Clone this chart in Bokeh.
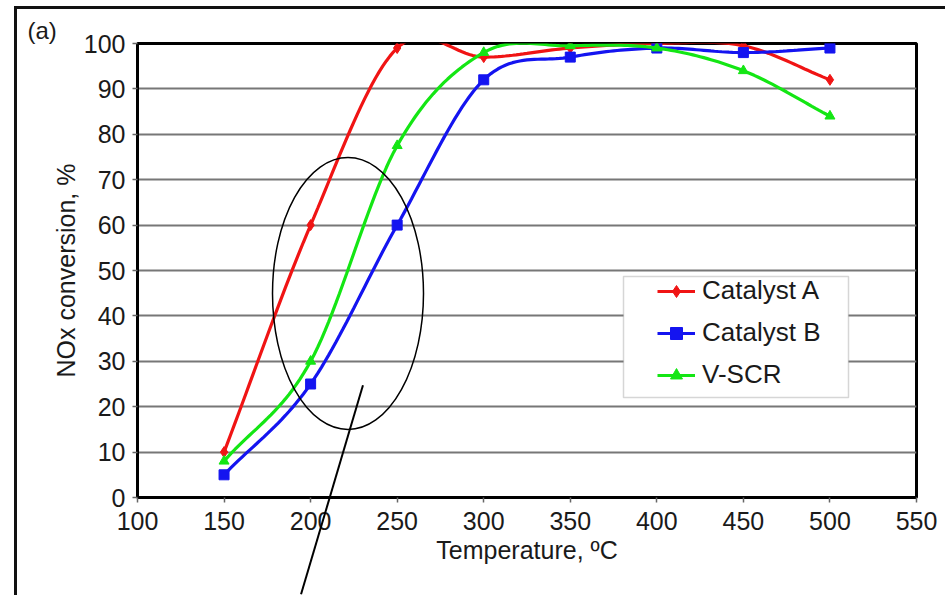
import numpy as np
from bokeh.plotting import figure
from bokeh.models import (Range1d, FixedTicker, Legend, LegendItem, Title,
                          BoxAnnotation, InlineStyleSheet)
from bokeh.embed import file_html
from bokeh.resources import INLINE

# ---------------- data ----------------
temperature = [150, 200, 250, 300, 350, 400, 450, 500]
catalyst_a = [10, 60, 99, 97, 99, 100, 99.5, 92]
catalyst_b = [5, 25, 60, 92, 97, 99, 98, 99]
v_scr = [8, 30, 77.5, 98, 99.5, 99, 94, 84]
x_ticks = [100, 150, 200, 250, 300, 350, 400, 450, 500, 550]
y_ticks = [0, 10, 20, 30, 40, 50, 60, 70, 80, 90, 100]
series_names = ["Catalyst A", "Catalyst B", "V-SCR"]

# ---------------- layout (pixels of the plot frame) ----------------
W, H = 945, 595
FRAME_L, FRAME_R, FRAME_T, FRAME_B = 137, 916, 43, 497
X0, X1, Y0, Y1 = x_ticks[0], x_ticks[-1], y_ticks[0], y_ticks[-1]


def px_x(px):
    return X0 + (px - FRAME_L) * (X1 - X0) / (FRAME_R - FRAME_L)


def px_y(py):
    return Y0 + (FRAME_B - py) * (Y1 - Y0) / (FRAME_B - FRAME_T)


def smooth(xs, ys, n=24):
    """Catmull-Rom rendering of a smoothed line through the data points."""
    xs = np.asarray(xs, float)
    ys = np.asarray(ys, float)
    px = np.concatenate([[2 * xs[0] - xs[1]], xs, [2 * xs[-1] - xs[-2]]])
    py = np.concatenate([[2 * ys[0] - ys[1]], ys, [2 * ys[-1] - ys[-2]]])
    out_x, out_y = [], []
    t = np.linspace(0, 1, n, endpoint=False)
    for i in range(1, len(px) - 2):
        for arr, out in ((px, out_x), (py, out_y)):
            p0, p1, p2, p3 = arr[i - 1], arr[i], arr[i + 1], arr[i + 2]
            out.extend(0.5 * ((2 * p1) + (-p0 + p2) * t
                              + (2 * p0 - 5 * p1 + 4 * p2 - p3) * t ** 2
                              + (-p0 + 3 * p1 - 3 * p2 + p3) * t ** 3))
    out_x.append(xs[-1])
    out_y.append(ys[-1])
    return out_x, out_y


FONT = "Liberation Sans"
TXT = "#1a1a1a"

p = figure(width=W, height=H, x_range=Range1d(X0, X1), y_range=Range1d(Y0, Y1),
           output_backend="svg", toolbar_location=None, title=None,
           min_border_left=FRAME_L, min_border_right=W - FRAME_R,
           min_border_top=FRAME_T, min_border_bottom=H - FRAME_B)
p.background_fill_color = "white"
p.border_fill_color = "white"
p.outline_line_color = "black"
p.outline_line_width = 3

# axes
p.xaxis.ticker = FixedTicker(ticks=x_ticks)
p.yaxis.ticker = FixedTicker(ticks=y_ticks)
p.xaxis.axis_label = "Temperature, ºC"
p.yaxis.axis_label = "NOx conversion, %"
for ax in (p.xaxis[0], p.yaxis[0]):
    ax.axis_line_color = "black"
    ax.axis_line_width = 3
    ax.major_tick_line_color = "#666666"
    ax.major_tick_line_width = 1.5
    ax.major_tick_out = 5
    ax.major_tick_in = 0
    ax.minor_tick_line_color = None
    ax.major_label_text_font = FONT
    ax.major_label_text_font_size = "25px"
    ax.major_label_text_color = TXT
    ax.axis_label_text_font = FONT
    ax.axis_label_text_font_size = "25px"
    ax.axis_label_text_font_style = "normal"
    ax.axis_label_text_color = TXT
p.yaxis.major_label_standoff = 7
p.yaxis.axis_label_standoff = 1
p.xaxis.major_label_standoff = 9
p.xaxis.axis_label_standoff = 3

p.xgrid.grid_line_color = None
p.ygrid.grid_line_color = "#777777"
p.ygrid.grid_line_width = 2

# series
colors = ["#f01414", "#1414f0", "#14e614"]
markers = ["diamond", "square", "triangle"]
sizes = [11, 10, 10]
items = []
for name, ys, c, m, s in zip(series_names, [catalyst_a, catalyst_b, v_scr], colors, markers, sizes):
    sx, sy = smooth(temperature, ys)
    lr = p.line(sx, sy, line_color=c, line_width=3.2)
    mr = p.scatter(temperature, ys, marker=m, size=s, fill_color=c, line_color=c)
    items.append(LegendItem(label=name, renderers=[lr, mr]))

# annotation ellipse
ELL_CX, ELL_CY, ELL_W, ELL_H = 347.5, 293, 151, 272   # pixels
p.ellipse(x=[px_x(ELL_CX)], y=[px_y(ELL_CY)],
          width=[ELL_W * (X1 - X0) / (FRAME_R - FRAME_L)],
          height=[ELL_H * (Y1 - Y0) / (FRAME_B - FRAME_T)],
          fill_alpha=0, line_color="black", line_width=1.5)

# "(a)" panel label
p.add_layout(Title(text="(a)", align="left", offset=27 - FRAME_L, standoff=0,
                   text_font=FONT, text_font_size="24px",
                   text_font_style="normal", text_color=TXT), "above")

# legend box + legend
LEG_L, LEG_T, LEG_R, LEG_B = 623, 276, 848, 397
p.add_layout(BoxAnnotation(left=px_x(LEG_L), right=px_x(LEG_R),
                           top=px_y(LEG_T), bottom=px_y(LEG_B),
                           fill_color="white", fill_alpha=1,
                           line_color="#777777", line_width=1.5))
legend = Legend(items=items, location=(657 - FRAME_L, FRAME_B - 390),
                padding=0, margin=0, border_line_alpha=0,
                background_fill_alpha=0, glyph_width=38, glyph_height=30,
                label_height=30, spacing=11, label_standoff=7,
                label_text_font=FONT, label_text_font_size="26px",
                label_text_color=TXT)
p.add_layout(legend)

# decoration outside the plot frame: cropped outer box and pointer line
PTR_X, PTR_Y, PTR_LEN, PTR_ANGLE = 362, 385, 218, 16.5
css = f"""
:host::before {{
  content: ""; position: absolute; left: 14px; top: 6px; right: 0; bottom: 0;
  border-left: 3px solid #111; border-top: 3px solid #111;
  pointer-events: none; z-index: 5; box-sizing: border-box;
}}
:host::after {{
  content: ""; position: absolute; left: {PTR_X}px; top: {PTR_Y}px;
  width: 2px; height: {PTR_LEN}px; background: #000;
  transform-origin: 0 0; transform: rotate({PTR_ANGLE}deg);
  pointer-events: none; z-index: 5;
}}
"""
p.stylesheets = [InlineStyleSheet(css=css)]

open("out.html", "w").write(file_html(p, INLINE))
